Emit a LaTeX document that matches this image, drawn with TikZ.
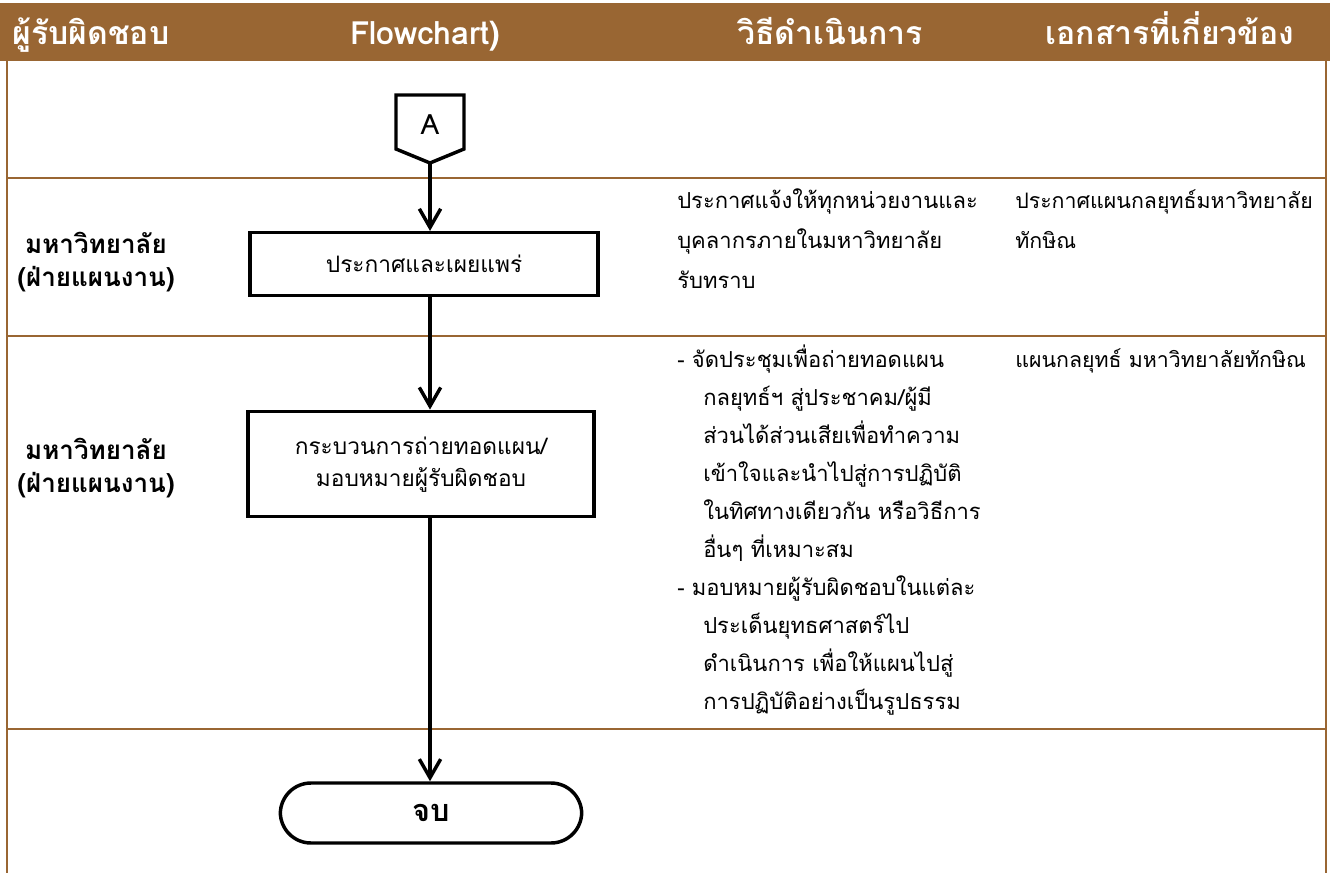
\documentclass[tikz,border=0pt]{standalone}
\usepackage{fontspec}
\setmainfont[Script=Thai]{Loma}
\usetikzlibrary{arrows.meta}
\definecolor{brn}{RGB}{153,102,51}
\tikzset{
  grid/.style={draw=brn, line width=1.5pt},
  hdr/.style={text=white, font=\fontsize{24}{28}\selectfont\bfseries, anchor=base},
  proc/.style={draw, line width=2.6pt, fill=white, align=center, font=\fontsize{17}{23.5}\selectfont, inner sep=0pt},
  term/.style={proc, rounded corners=23pt, font=\fontsize{23}{26}\selectfont\bfseries},
  lane/.style={align=center, font=\fontsize{19.5}{25}\selectfont\bfseries},
  body/.style={anchor=base west, font=\fontsize{16.5}{20}\selectfont, inner sep=0pt},
  doc/.style={body, font=\fontsize{16}{20}\selectfont},
  flow/.style={line width=2.6pt, -{Straight Barb[length=14pt,width=16pt,line width=2.6pt]}},
}
\begin{document}
\begin{tikzpicture}[x=0.75pt,y=-0.75pt]
\useasboundingbox (0,0) rectangle (1333,873);
% header
\fill[brn] (0,3) rectangle (1330,61);
\node[hdr] (h1) at (91,45) {ผู้รับผิดชอบ};
\node[hdr] (h2) at (425,45) {Flowchart)};
\node[hdr] (h3) at (830,45) {วิธีดำเนินการ};
\node[hdr] (h4) at (1170,45) {เอกสารที่เกี่ยวข้อง};
% table lines
\draw[grid] (7,61) -- (7,873);
\draw[grid] (1326,61) -- (1326,873);
\draw[grid] (7,178) -- (1326,178);
\draw[grid] (7,336) -- (1326,336);
\draw[grid] (7,729) -- (1326,729);
% lane labels
\node[lane] (l1) at (96,262) {มหาวิทยาลัย\\(ฝ่ายแผนงาน)};
\node[lane] (l2) at (96,468) {มหาวิทยาลัย\\(ฝ่ายแผนงาน)};
% connector A
\draw[line width=2.6pt, fill=white, line join=miter] (396,95) -- (464,95) -- (464,149) -- (430,163) -- (396,149) -- cycle;
\node[font=\fontsize{21}{24}\selectfont] (A) at (430,125) {A};
\coordinate (Atip) at (430,163);
% boxes
\node[proc, minimum width=261pt, minimum height=47pt] (b1) at (424,264) {ประกาศและเผยแพร่};
\node[proc, minimum width=259.5pt, minimum height=79pt] (b2) at (421,464) {\rule{0pt}{14pt}กระบวนการถ่ายทอดแผน/\\มอบหมายผู้รับผิดชอบ};
\node[term, minimum width=226pt, minimum height=45pt] (e) at (431,813) {จบ};
% arrows
\draw[flow] (Atip) -- (Atip |- b1.north);
\draw[flow] (Atip |- b1.south) -- (Atip |- b2.north);
\draw[flow] (Atip |- b2.south) -- (Atip |- e.north);
% body text row 1
\node[body] (t1) at (677,209) {ประกาศแจ้งให้ทุกหน่วยงานและ};
\node[body] (t2) at (677,249) {บุคลากรภายในมหาวิทยาลัย};
\node[body] (t3) at (677,289) {รับทราบ};
\node[doc] (d1) at (1015,209) {ประกาศแผนกลยุทธ์มหาวิทยาลัย};
\node[doc] (d2) at (1015,249) {ทักษิณ};
% body text row 2
\node[body] (s1) at (677,367) {- จัดประชุมเพื่อถ่ายทอดแผน};
\node[body] (s2) at (703,405) {กลยุทธ์ฯ สู่ประชาคม/ผู้มี};
\node[body] (s3) at (703,443) {ส่วนได้ส่วนเสียเพื่อทำความ};
\node[body] (s4) at (703,481) {เข้าใจและนำไปสู่การปฏิบัติ};
\node[body] (s5) at (703,519) {ในทิศทางเดียวกัน หรือวิธีการ};
\node[body] (s6) at (703,557) {อื่นๆ ที่เหมาะสม};
\node[body] (s7) at (677,595) {- มอบหมายผู้รับผิดชอบในแต่ละ};
\node[body] (s8) at (703,633) {ประเด็นยุทธศาสตร์ไป};
\node[body] (s9) at (703,671) {ดำเนินการ เพื่อให้แผนไปสู่};
\node[body] (s10) at (703,709) {การปฏิบัติอย่างเป็นรูปธรรม};
\node[doc] (d3) at (1015,367) {แผนกลยุทธ์ มหาวิทยาลัยทักษิณ};
\end{tikzpicture}
\end{document}
